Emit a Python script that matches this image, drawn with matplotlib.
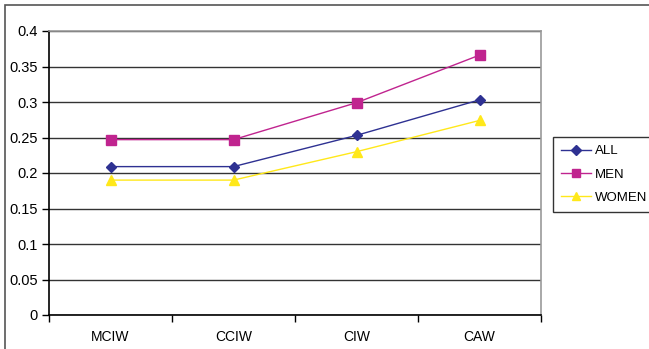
import matplotlib.pyplot as plt
from matplotlib.patches import Rectangle

plt.rcParams['font.family'] = ['Liberation Sans', 'DejaVu Sans']

categories = ['MCIW', 'CCIW', 'CIW', 'CAW']
all_vals = [0.209, 0.209, 0.253, 0.303]
men_vals = [0.247, 0.247, 0.299, 0.366]
women_vals = [0.190, 0.190, 0.230, 0.274]
yticks = [0, 0.05, 0.1, 0.15, 0.2, 0.25, 0.3, 0.35, 0.4]
ytick_labels = ['0', '0.05', '0.1', '0.15', '0.2', '0.25', '0.3', '0.35', '0.4']

W, H = 649, 349
fig = plt.figure(figsize=(W / 100, H / 100), dpi=100)
ax = fig.add_axes([49 / W, (H - 315) / H, (541 - 49) / W, (315 - 31) / H])

# outer chart frame (only top and left edges fall inside the image)
fig.patches.append(Rectangle((5 / W, -0.1), 1.2, (H - 5) / H + 0.1,
                             transform=fig.transFigure, fill=False,
                             edgecolor='#555555', linewidth=1.2))

x = [i + 0.5 for i in range(len(categories))]
ax.plot(x, all_vals, color='#2e3192', marker='D', markersize=5.5, linewidth=1, label='ALL')
ax.plot(x, men_vals, color='#c0248f', marker='s', markersize=6.5, linewidth=1, label='MEN')
ax.plot(x, women_vals, color='#ffe81a', marker='^', markersize=7, linewidth=1, label='WOMEN')

ax.set_xlim(0, len(categories))
ax.set_ylim(0, 0.4)
ax.set_yticks(yticks)
ax.set_yticklabels(ytick_labels)
ax.set_xticks(range(len(categories) + 1))
ax.set_xticklabels([])
ax.set_xticks(x, minor=True)
ax.set_xticklabels(categories, minor=True)
ax.tick_params(axis='x', which='minor', length=0, pad=11, labelsize=10)
ax.tick_params(axis='x', which='major', length=5, width=1, direction='out')
ax.tick_params(axis='y', length=5, width=1, direction='out', labelsize=10.5, pad=3)
ax.grid(axis='y', color='#333333', linewidth=1)
ax.set_axisbelow(True)

for side in ['top', 'right']:
    ax.spines[side].set_color('#999999')
    ax.spines[side].set_linewidth(1.2)
ax.spines['left'].set_linewidth(1.2)
ax.spines['bottom'].set_linewidth(1.2)

leg = ax.legend(loc='upper left', bbox_to_anchor=(553 / W, (H - 137) / H),
                bbox_transform=fig.transFigure, frameon=True, fancybox=False,
                edgecolor='black', fontsize=9.5, handlelength=2.3,
                handletextpad=0.25, borderpad=0.6, labelspacing=0.85,
                borderaxespad=0, markerscale=0.85)
leg.get_frame().set_linewidth(1)

fig.savefig('out.png', dpi=100)
